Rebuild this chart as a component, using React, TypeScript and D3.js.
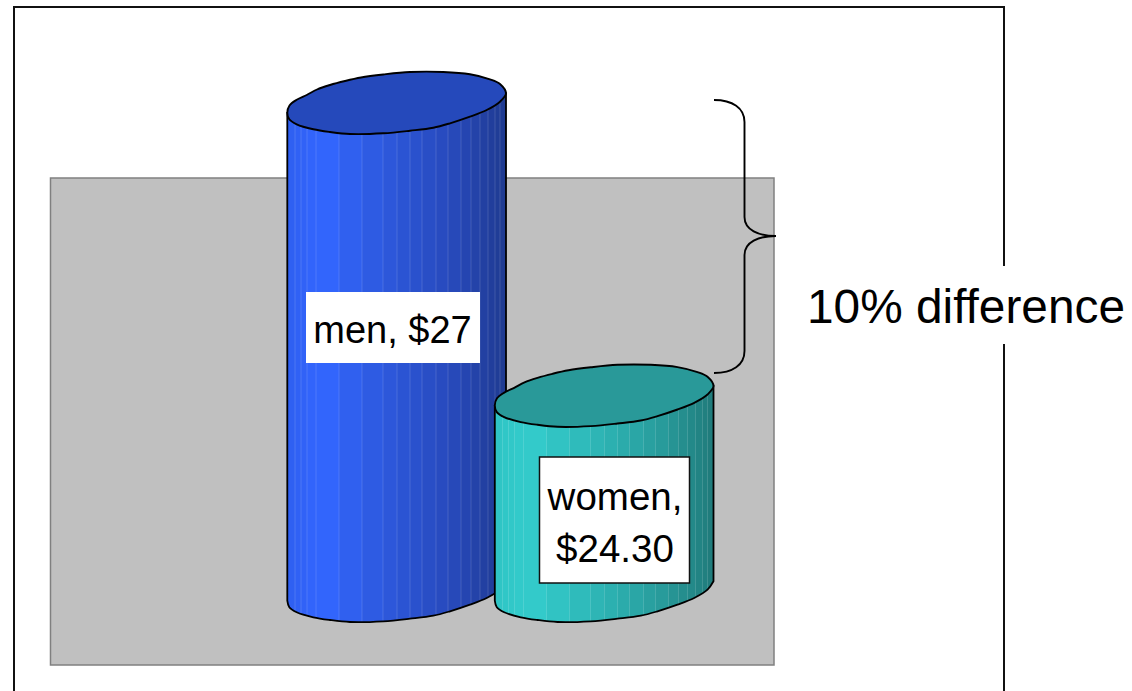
import React from "react";
import * as d3 from "d3";

const categories = ["men", "women"];
const values = [27, 24.3];
const labelLines = [["men, $27"], ["women,", "$24.30"]];
const annotation = "10% difference";
const bodyStops = [
  ["#2f5ff0", "#3366ff", "#2c55d6", "#2748b8", "#1e3a8f"],
  ["#2fc4c4", "#33cccc", "#2db3b3", "#289a9a", "#1f7a7a"],
];
const capColors = ["#2549bb", "#299999"];
const seamOffsets = [-102, -96, -90, -81, -58, -35, -14, 0, 13, 25, 39, 51, 64, 74, 83, 91, 98, 103];

const W = 1132, H = 691;
const y = d3.scaleLinear().domain([22.5, 27]).range([591, 103]);
const x = d3.scalePoint<string>().domain(categories).range([397, 604.5]);

const upperRim: [number, number][] = [
  [-109.7, 9.7], [-107.5, 2.5], [-100.3, -3.2], [-90.3, -8], [-80, -13.5], [-67, -18], [-52, -22],
  [-36, -25.5], [-13.7, -28.5], [13, -31], [46.3, -31], [73, -28.7], [93, -23.7], [103, -19], [109, -9.7],
];
const lowerRim: [number, number][] = [
  [103, -1.3], [89.7, 7], [73, 13.7], [53, 20.3], [36.3, 24.7], [13, 27.7], [-13.7, 30.3], [-47, 31],
  [-67, 29], [-83.7, 26.3], [-100.3, 21.3], [-107.7, 16.3],
];

const closed = d3.line().curve(d3.curveCatmullRomClosed.alpha(0.5));
const open = d3.line().curve(d3.curveCatmullRom.alpha(0.5));

function bodyPath(cx: number, top: number, depth: number) {
  const right: [number, number] = [109, -9.7];
  const left: [number, number] = [-109.7, 9.7];
  const bottom = [left, ...[...lowerRim].reverse(), right].map(
    ([a, b]) => [cx + a, top + b + depth] as [number, number]
  );
  const rim = open(bottom) as string;
  return `M${cx + left[0]},${top + left[1]}L${rim.slice(1)}L${cx + right[0]},${top + right[1]}Z`;
}

function Cylinder({ i }: { i: number }) {
  const cx = x(categories[i]) as number;
  const top = y(values[i]);
  const depth = y(22.5) - top;
  const color = d3.scaleLinear<string>()
    .domain([-110, -75, 0, 60, 110])
    .range(bodyStops[i])
    .interpolate(d3.interpolateRgb);
  const edges = [-110, ...seamOffsets, 110];
  const id = `clip-${i}`;
  const body = bodyPath(cx, top, depth);
  const cap = closed([...upperRim, ...lowerRim].map(([a, b]) => [cx + a, top + b] as [number, number])) as string;
  return (
    <g>
      <clipPath id={id}><path d={body} /></clipPath>
      <g clipPath={`url(#${id})`}>
        {edges.slice(0, -1).map((e, k) => (
          <rect key={k} x={cx + e} y={top - 40} width={edges[k + 1] - e + 0.5} height={depth + 90}
            fill={color((e + edges[k + 1]) / 2)} />
        ))}
        {seamOffsets.map((s, k) => (
          <line key={k} x1={cx + s} x2={cx + s} y1={top - 40} y2={top + depth + 50}
            stroke="#ffffff" strokeOpacity={0.14} strokeWidth={1} />
        ))}
      </g>
      <path d={body} fill="none" stroke="#000" strokeWidth={1.8} />
      <path d={cap} fill={capColors[i]} stroke="#000" strokeWidth={1.9} />
    </g>
  );
}

export default function App() {
  const by0 = 100, by1 = 373, bm = 236, bx0 = 714, bx = 744.5, bx1 = 776;
  const brace = d3.path();
  brace.moveTo(bx0, by0);
  brace.bezierCurveTo(bx - 12, by0, bx, by0 + 8, bx, by0 + 22);
  brace.lineTo(bx, bm - 19);
  brace.bezierCurveTo(bx, bm - 6, bx + 14, bm, bx1, bm);
  brace.bezierCurveTo(bx + 14, bm, bx, bm + 6, bx, bm + 19);
  brace.lineTo(bx, by1 - 22);
  brace.bezierCurveTo(bx, by1 - 8, bx - 12, by1, bx0, by1);

  return (
    <svg width={W} height={H} style={{ position: "absolute", left: 0, top: 0, background: "#fff" }}
      fontFamily="'Liberation Sans', Arial, sans-serif">
      <path d={`M14,${H + 5}V7H1004V${H + 5}`} fill="none" stroke="#111" strokeWidth={2} />
      <rect x={50.5} y={178} width={723.5} height={487} fill="#c0c0c0" stroke="#808080" strokeWidth={1.5} />
      {categories.map((_, i) => <Cylinder key={i} i={i} />)}

      <rect x={306} y={292} width={174} height={71} fill="#fff" />
      <text x={392.5} y={343} textAnchor="middle" fontSize={38} fill="#000">{labelLines[0][0]}</text>

      <rect x={539.5} y={457} width={150} height={126} fill="#fff" stroke="#111" strokeWidth={1.5} />
      {labelLines[1].map((t, k) => (
        <text key={k} x={615} y={510 + k * 52} textAnchor="middle" fontSize={38.5} fill="#000">{t}</text>
      ))}

      <path d={brace.toString()} fill="none" stroke="#000" strokeWidth={1.9} />

      <rect x={800} y={266} width={332} height={78} fill="#fff" />
      <text x={807} y={323} fontSize={47.8} fill="#000">{annotation}</text>
    </svg>
  );
}
